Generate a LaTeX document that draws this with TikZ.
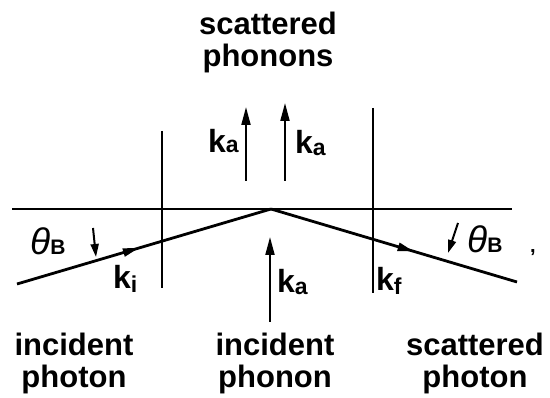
\documentclass[tikz,border=0pt]{standalone}
\usepackage{fontspec}
\setmainfont{Liberation Sans}
\usetikzlibrary{arrows.meta,decorations.markings}
\newcommand\ksub[2]{k\raisebox{-#2}{\fontsize{23}{23}\selectfont #1}}
\newcommand\thB{{\fontsize{37}{37}\selectfont\itshape θ}{\fontsize{21}{21}\selectfont\bfseries B}}
\begin{document}
\begin{tikzpicture}[x=1pt,y=-1pt,
  lbl/.style={font=\fontsize{31}{32}\selectfont\bfseries, align=center, inner sep=0pt, anchor=base},
  klbl/.style={font=\fontsize{32}{32}\selectfont\bfseries, inner sep=0pt, anchor=base west},
  thlbl/.style={inner sep=0pt, anchor=base west},
  wall/.style={line width=1.8pt},
  surf/.style={line width=2.6pt},
  ray/.style={line width=2.8pt},
  kvec/.style={line width=2pt, -{Triangle[length=18pt,width=9pt]}},
  smallarr/.style={line width=2pt, -{Triangle[length=13pt,width=8pt]}},
  midarrow/.style={postaction={decorate}, decoration={markings, mark=at position #1 with {\arrow{Triangle[length=16pt,width=8pt]}}}}
]
\useasboundingbox (0,0) rectangle (550,398);
% geometry
\coordinate (hl) at (12,209);  \coordinate (hr) at (512,209);
\coordinate (lwt) at (162,131); \coordinate (lwb) at (162,288);
\coordinate (rwt) at (373,108); \coordinate (rwb) at (373,293);
\coordinate (apex) at (271,209);
\coordinate (inS) at (17,284);  \coordinate (outE) at (517,282);
\coordinate (a1s) at (246,181); \coordinate (a1e) at (246,107);
\coordinate (a2s) at (285,181); \coordinate (a2e) at (285,103);
\coordinate (a3s) at (270,322); \coordinate (a3e) at (270,237);
\coordinate (t1s) at (93,228);  \coordinate (t1e) at (96,257);
\coordinate (t2s) at (458,223); \coordinate (t2e) at (448,253);
% lines
\draw[surf] (hl) -- (hr);
\draw[wall] (lwt) -- (lwb);
\draw[wall] (rwt) -- (rwb);
\draw[ray, midarrow=0.48] (inS) -- (apex);
\draw[ray, midarrow=0.58] (apex) -- (outE);
\draw[kvec] (a1s) -- (a1e);
\draw[kvec] (a2s) -- (a2e);
\draw[kvec] (a3s) -- (a3e);
\draw[smallarr] (t1s) -- (t1e);
\draw[smallarr] (t2s) -- (t2e);
% labels
\node[lbl] (top) at (268,67) {scattered\\phonons};
\node[lbl] (b1) at (74,388) {incident\\photon};
\node[lbl] (b2) at (275,388) {incident\\phonon};
\node[lbl] (b3) at (475,388) {scattered\\photon};
\node[klbl] (ka1) at (208,153) {\ksub{a}{0pt}};
\node[klbl] (ka2) at (295,154) {\ksub{a}{2pt}};
\node[klbl] (ka3) at (277,293) {\ksub{a}{2pt}};
\node[klbl] (ki) at (113,289) {\ksub{i}{4pt}};
\node[klbl] (kf) at (376,291) {\ksub{f}{4pt}};
\node[thlbl] (th1) at (30,255) {\thB};
\node[thlbl] (th2) at (467,253) {\thB};
\node[thlbl] (cm) at (530,253) {\fontsize{20}{20}\selectfont\bfseries ,};
\end{tikzpicture}
\end{document}
